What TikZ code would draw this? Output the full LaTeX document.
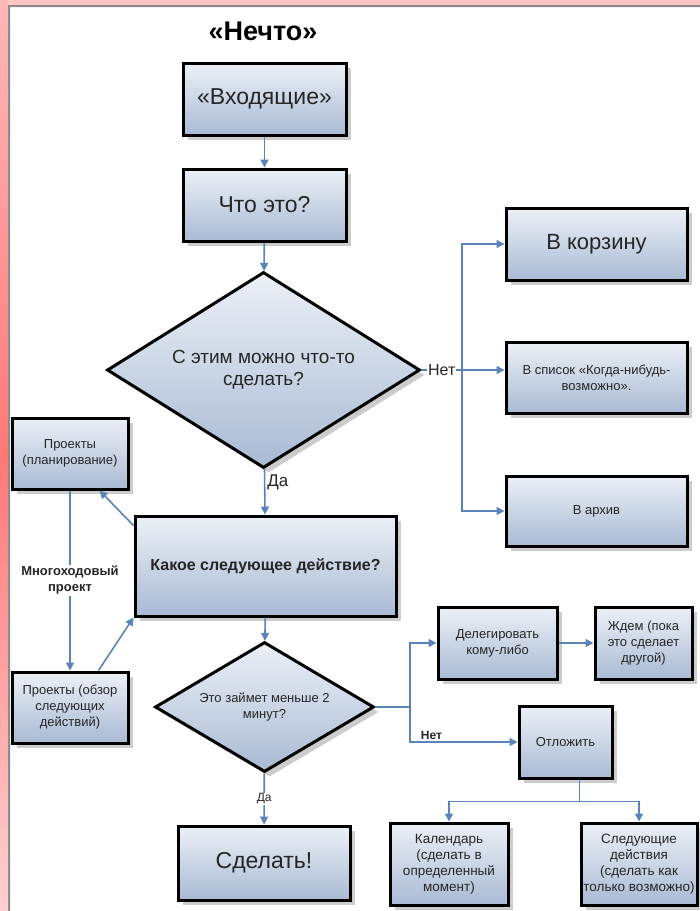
\documentclass[tikz,border=0pt]{standalone}
\usepackage{fontspec}
\setmainfont{Liberation Sans}
\usetikzlibrary{arrows.meta,shapes.geometric,shadows}
\definecolor{lnk}{HTML}{5A83BA}
\definecolor{boxhi}{HTML}{ECF0F6}
\definecolor{boxlo}{HTML}{A9BAD4}
\definecolor{rim}{HTML}{FFB8B8}
\definecolor{rimdeep}{HTML}{FF7878}
\definecolor{rimlow}{HTML}{FFD0D0}

\begin{document}
\begin{tikzpicture}[x=1pt,y=-1pt,line width=1.6pt,
    >={Triangle[width=8pt,length=8pt]},
    every node/.style={inner sep=2pt,align=center,text=black!85},
    fs/.style 2 args={font=\fontsize{#1}{#2}\selectfont},
    blk/.style={draw=black,line width=3pt,top color=boxhi,bottom color=boxlo,
      drop shadow={shadow xshift=5pt,shadow yshift=-5pt,fill=black,opacity=.2}},
    card/.style 2 args={blk,minimum width=#1pt,minimum height=#2pt},
    dia/.style 2 args={blk,diamond,inner sep=0pt,shape aspect=1.65,
      minimum width=#1pt,minimum height=#2pt},
    lk/.style={draw=lnk,->},
    lab/.style={fill=white,inner sep=1pt}]
  \useasboundingbox (0,0) rectangle (700,911);
  \fill[white] (0,0) rectangle (700,911);
  \shade[top color=rim,bottom color=rimlow,middle color=rimdeep] (0,0) rectangle (8.5,911);
  \fill[rim!80] (8,0) rectangle (700,5);
  \fill[black!45] (8,5) rectangle (10,911) (8,5) rectangle (700,7);

  \node[font=\bfseries\fontsize{27}{30}\selectfont,text=black] (title) at (263,31) {«Нечто»};
  \node[card={163}{72},fs={23}{26}] (inbox) at (264.5,99) {«Входящие»};
  \node[card={163}{72},fs={23}{26}] (what) at (264.5,205) {Что это?};
  \node[dia={313}{196},fs={19}{22}] (can) at (263.5,370) {С этим можно что-то\\сделать?};
  \node[card={181}{72},fs={22}{25}] (trash) at (596.5,244) {В корзину};
  \node[card={181}{71},fs={13}{16}] (someday) at (596.5,377.5) {В список «Когда-нибудь-\\возможно».};
  \node[card={181}{70},fs={13}{16}] (archive) at (596.5,511) {В архив};
  \node[card={261}{100},font=\bfseries\fontsize{16}{19}\selectfont] (next) at (265.5,566) {Какое следующее действие?};
  \node[card={116}{71},fs={13}{16}] (plan) at (70,453.5) {Проекты\\(планирование)};
  \node[card={116}{71},fs={13}{16}] (review) at (70,707.5) {Проекты (обзор\\следующих\\действий)};
  \node[dia={219}{130},fs={13}{16}] (twomin) at (264.5,707) {Это займет меньше 2\\минут?};
  \node[card={119}{72},fs={13}{16}] (deleg) at (497.5,643) {Делегировать\\кому-либо};
  \node[card={97}{72},fs={13}{16}] (wait) at (643.5,643) {Ждем (пока\\это сделает\\другой)};
  \node[card={93}{72},fs={13}{16}] (defer) at (565.5,742) {Отложить};
  \node[card={118}{82},fs={13.5}{16}] (cal) at (449,864) {Календарь\\(сделать в\\определенный\\момент)};
  \node[card={116}{82},fs={13.5}{16}] (nextact) at (639,864) {Следующие\\действия\\(сделать как\\только возможно)};
  \node[card={172}{74},fs={23}{26}] (doit) at (264,863) {Сделать!};
  \coordinate (fork) at (462,370);
  \coordinate (fork2) at (410,707);

  \draw[lk] (inbox) -- (what);
  \draw[lk] (what) -- (can);
  \draw[draw=lnk] (can.east) -- node[lab,fs={16}{18}]{Нет} (fork);
  \draw[lk] (fork) |- (trash);
  \draw[lk] (fork) -- (someday.west |- fork);
  \draw[lk] (fork) |- (archive);
  \draw[lk] (can) -- node[right,pos=.3,fs={17}{19}]{Да} (next);
  \draw[lk] ([yshift=-11pt]next.north west) -- ([xshift=-30pt]plan.south east);
  \draw[lk] (plan) -- node[lab,font=\bfseries\fontsize{13}{16}\selectfont]{Многоходовый\\проект} (review);
  \draw[lk] ([xshift=-31pt]review.north east) -- (next.south west);
  \draw[lk] (next) -- (twomin);
  \draw[draw=lnk] (twomin.east) -- (fork2);
  \draw[lk] (fork2) |- (deleg);
  \draw[lk] (fork2) |- node[above,pos=.6,font=\bfseries\fontsize{12}{14}\selectfont]{Нет} (defer);
  \draw[lk] (deleg) -- (wait);
  \draw[lk] ([xshift=14pt]defer.south) -- ++(0,22) -| (cal);
  \draw[lk] ([xshift=14pt]defer.south) -- ++(0,22) -| (nextact);
  \draw[lk] (twomin) -- node[lab,fs={12}{14}]{Да} (doit);
\end{tikzpicture}
\end{document}
